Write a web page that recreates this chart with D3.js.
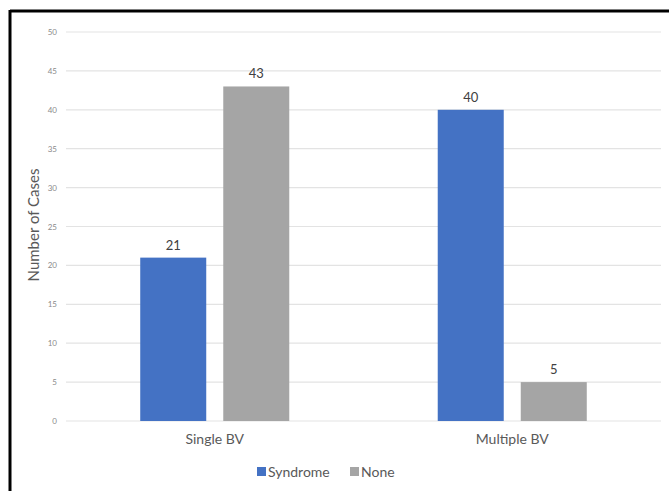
<!DOCTYPE html>
<html><head><meta charset="utf-8">
<script src="https://cdn.jsdelivr.net/npm/d3@7"></script>
<style>body{margin:0;background:#fff;} svg{display:block;}</style>
</head><body>
<svg id="chart" width="669" height="491"></svg>
<script>
const categories = ["Single BV", "Multiple BV"];
const seriesNames = ["Syndrome", "None"];
const syndromeValues = [21, 40];
const noneValues = [43, 5];
const yTicks = [0, 5, 10, 15, 20, 25, 30, 35, 40, 45, 50];
const colors = ["#4472C4", "#A5A5A5"];

const svg = d3.select("#chart");
const font = "Lato, 'Open Sans', sans-serif";

// frame
svg.append("line").attr("x1", 10).attr("x2", 669).attr("y1", 11).attr("y2", 11).attr("stroke", "#000").attr("stroke-width", 3);
svg.append("line").attr("x1", 10).attr("x2", 10).attr("y1", 10).attr("y2", 491).attr("stroke", "#000").attr("stroke-width", 3);

const x0 = d3.scaleBand().domain(categories).range([66, 661]).paddingInner(0).paddingOuter(0);
const x1 = d3.scaleBand().domain(seriesNames).range([0, x0.bandwidth()]).paddingInner(0.205).paddingOuter(0.894);
const y = d3.scaleLinear().domain([0, 50]).range([421, 32]);

// gridlines
svg.append("g").selectAll("line").data(yTicks).join("line")
  .attr("x1", 66).attr("x2", 661)
  .attr("y1", d => y(d)).attr("y2", d => y(d))
  .attr("stroke", "#e3e3e3").attr("stroke-width", 1.2);

// y axis labels
const yAxis = d3.axisLeft(y).tickValues(yTicks).tickSize(0).tickPadding(0);
const gy = svg.append("g").attr("transform", "translate(57,0)").call(yAxis);
gy.select(".domain").remove();
gy.selectAll("text").attr("font-family", font).attr("font-size", 8).attr("fill", "#8a8a8a");

// bars
const data = categories.map((c, i) => ({cat: c, vals: [syndromeValues[i], noneValues[i]]}));
const groups = svg.append("g").selectAll("g").data(data).join("g")
  .attr("transform", d => `translate(${x0(d.cat)},0)`);
groups.selectAll("rect").data(d => d.vals.map((v, j) => ({s: seriesNames[j], v, j}))).join("rect")
  .attr("x", d => x1(d.s)).attr("width", x1.bandwidth())
  .attr("y", d => y(d.v)).attr("height", d => y(0) - y(d.v))
  .attr("fill", d => colors[d.j]);
groups.selectAll("text").data(d => d.vals.map((v, j) => ({s: seriesNames[j], v, j}))).join("text")
  .attr("x", d => x1(d.s) + x1.bandwidth() / 2).attr("y", d => y(d.v) - 8)
  .attr("text-anchor", "middle").attr("font-family", font).attr("font-size", 13).attr("fill", "#404040")
  .text(d => d.v);

// x axis labels
const xAxis = d3.axisBottom(x0).tickSize(0).tickPadding(0);
const gx = svg.append("g").attr("transform", "translate(0,434)").call(xAxis);
gx.select(".domain").remove();
gx.selectAll("text").attr("font-family", font).attr("font-size", 14).attr("fill", "#595959");

// y title
svg.append("text").attr("transform", "translate(39,225) rotate(-90)")
  .attr("text-anchor", "middle").attr("font-family", font).attr("font-size", 15).attr("fill", "#595959")
  .text("Number of Cases");

// legend
const legendX = [257, 350];
const leg = svg.append("g").selectAll("g").data(seriesNames).join("g")
  .attr("transform", (d, i) => `translate(${legendX[i]},467)`);
leg.append("rect").attr("width", 9).attr("height", 9).attr("fill", (d, i) => colors[i]);
leg.append("text").attr("x", 11).attr("y", 9.5).attr("font-family", font).attr("font-size", 14).attr("fill", "#595959").text(d => d);
</script>
</body></html>
